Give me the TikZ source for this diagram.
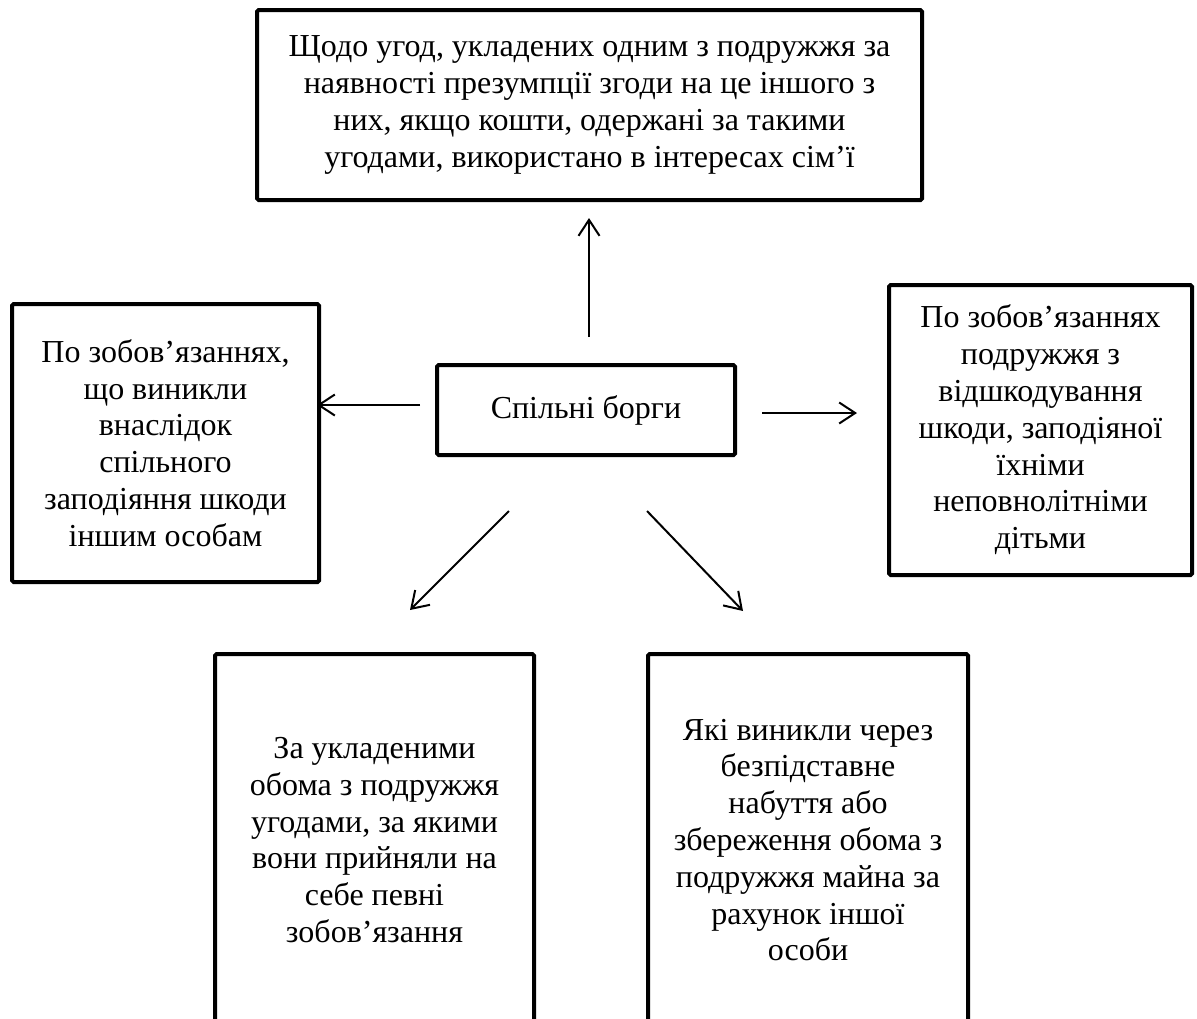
\documentclass[tikz,border=0pt]{standalone}
\usepackage{fontspec}
\setmainfont{Liberation Serif}
\usetikzlibrary{arrows.meta}
\begin{document}
\begin{tikzpicture}[x=0.5pt,y=-0.5pt,
  box/.style={draw, line width=2pt, rounded corners=0.8pt, align=center, inner sep=0pt,
    font=\fontsize{16}{18.4}\selectfont},
  arr/.style={line width=1pt, -{Straight Barb[length=8pt,width=10.5pt,line width=1pt]}}]
\path[use as bounding box] (0,0) rectangle (1197,1018);
\clip (0,0) rectangle (1197,1018);
\node[box, minimum width=332.5pt, minimum height=95pt] (top) at (589.5,105)
  {Щодо угод, укладених одним з подружжя за\\наявності презумпції згоди на це іншого з\\них, якщо кошти, одержані за такими\\угодами, використано в інтересах сім’ї};
\node[box, minimum width=149pt, minimum height=45pt] (mid) at (586,410) {Спільні борги};
\node[box, minimum width=153.5pt, minimum height=139pt] (left) at (165.5,443)
  {По зобов’язаннях,\\що виникли\\внаслідок\\спільного\\заподіяння шкоди\\іншим особам};
\node[box, minimum width=151.5pt, minimum height=145pt] (right) at (1040.5,430)
  {По зобов’язаннях\\подружжя з\\відшкодування\\шкоди, заподіяної\\їхніми\\неповнолітніми\\дітьми};
\node[box, minimum width=159.5pt, minimum height=186pt] (bl) at (374.5,840)
  {За укладеними\\обома з подружжя\\угодами, за якими\\вони прийняли на\\себе певні\\зобов’язання};
\node[box, minimum width=160pt, minimum height=186pt] (br) at (808,840)
  {Які виникли через\\безпідставне\\набуття або\\збереження обома з\\подружжя майна за\\рахунок іншої\\особи};
\coordinate (upS) at (589,337);
\coordinate (upE) at (589,218);
\coordinate (lS) at (420,405);
\coordinate (lE) at (317,405);
\coordinate (rS) at (762,413);
\coordinate (rE) at (857,413);
\coordinate (dlS) at (509,511);
\coordinate (dlE) at (410,610);
\coordinate (drS) at (647,511);
\coordinate (drE) at (743,611);
\draw[arr] (upS) -- (upE);
\draw[arr] (lS) -- (lE);
\draw[arr] (rS) -- (rE);
\draw[arr] (dlS) -- (dlE);
\draw[arr] (drS) -- (drE);
\end{tikzpicture}
\end{document}
